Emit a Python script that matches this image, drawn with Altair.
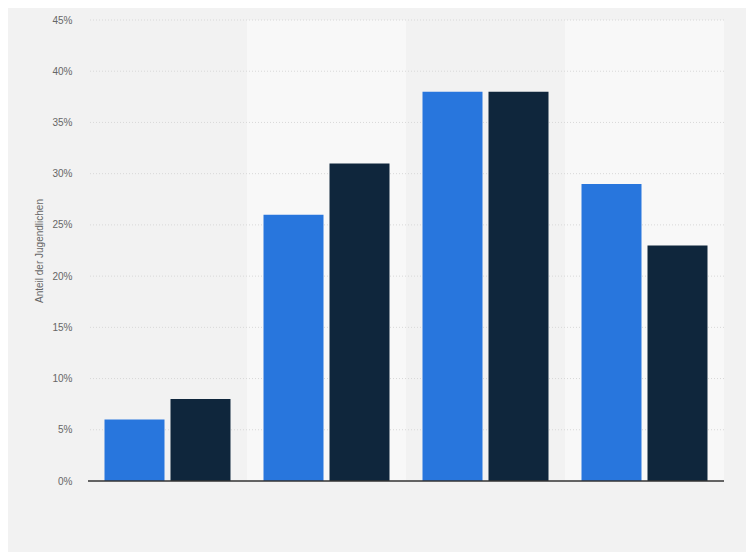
import altair as alt
import pandas as pd

categories = ["Gruppe 1", "Gruppe 2", "Gruppe 3", "Gruppe 4"]
series = ["Serie 1", "Serie 2"]
values_s1 = [6, 26, 38, 29]
values_s2 = [8, 31, 38, 23]
band_fill = ["#f2f2f2", "#f8f8f8", "#f2f2f2", "#f8f8f8"]
y_ticks = [0, 5, 10, 15, 20, 25, 30, 35, 40, 45]

rows = []
for c, a, b in zip(categories, values_s1, values_s2):
    rows.append({"cat": c, "series": series[0], "value": a})
    rows.append({"cat": c, "series": series[1], "value": b})
df = pd.DataFrame(rows)
bg = pd.DataFrame({"cat": categories, "fill": band_fill, "top": [45] * 4, "bottom": [0] * 4})
grid_df = pd.DataFrame({"y": [t for t in y_ticks if t > 0]})

x_scale = alt.Scale(domain=categories, paddingInner=0, paddingOuter=0)
y_scale = alt.Scale(domain=[0, 45], nice=False)

bands = alt.Chart(bg).mark_rect().encode(
    x=alt.X("cat:N", scale=x_scale, axis=None, sort=categories),
    y=alt.Y(
        "top:Q",
        scale=y_scale,
        axis=alt.Axis(
            values=y_ticks,
            labelExpr="datum.value + '%'",
            title="Anteil der Jugendlichen",
            grid=False,
            domain=False,
            ticks=False,
            labelPadding=16,
            labelFontSize=10,
            labelColor="#666666",
            labelFont="Liberation Sans",
            titleFont="Liberation Sans",
            titleFontSize=10,
            titleFontWeight="normal",
            titleColor="#666666",
            titlePadding=7,
        ),
    ),
    y2="bottom:Q",
    fill=alt.Fill("fill:N", scale=None),
)

grid = alt.Chart(grid_df).mark_rule(color="#d8d8d8", strokeDash=[1, 2], strokeWidth=1).encode(
    y=alt.Y("y:Q", scale=y_scale)
)

bars = alt.Chart(df).mark_bar().encode(
    x=alt.X("cat:N", scale=x_scale, axis=None, sort=categories),
    xOffset=alt.XOffset("series:N", scale=alt.Scale(domain=series, paddingInner=0.0909, paddingOuter=0.25)),
    y=alt.Y("value:Q", scale=y_scale),
    color=alt.Color("series:N", scale=alt.Scale(domain=series, range=["#2876dd", "#0f263c"]), legend=None),
)

base_rule = alt.Chart(pd.DataFrame({"y": [0]})).mark_rule(color="#333333", strokeWidth=1.5).encode(
    y=alt.Y("y:Q", scale=y_scale)
)

chart = (
    alt.layer(bands, grid, bars, base_rule)
    .properties(
        width=636,
        height=461,
        autosize=alt.AutoSizeParams(type="none"),
        padding={"left": 80, "top": 12, "right": 22, "bottom": 71},
        background="#f2f2f2",
    )
    .configure_view(stroke=None)
)

chart.save("out.html", embed_options={"renderer": "svg", "actions": False})
